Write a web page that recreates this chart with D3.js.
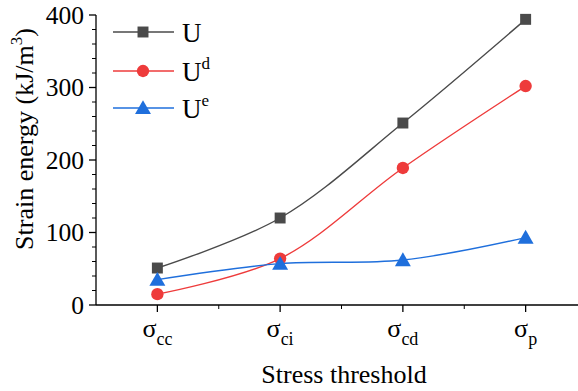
<!DOCTYPE html>
<html><head><meta charset="utf-8">
<script src="https://cdn.jsdelivr.net/npm/d3@7"></script>
</head><body style="margin:0"><svg id="c" width="578" height="391"></svg>
<script>
const categories = ["cc", "ci", "cd", "p"];
const U = [51, 120, 251, 394];
const Ud = [15, 64, 189, 302];
const Ue = [35, 57, 62, 93];
const yTicks = [0, 100, 200, 300, 400];
const seriesNames = [["U", ""], ["U", "d"], ["U", "e"]];
const colors = ["#4a4a4a", "#ee3b3b", "#1f6fdc"];

const svg = d3.select("#c");
const x = d3.scaleLinear().domain([-0.5, 3.5]).range([96, 587]);
const y = d3.scaleLinear().domain([0, 400]).range([305, 15]);
const txt = (sel) => sel.append("text").style("font-family", "Liberation Serif", "important");

// axes
const yMinor = d3.range(0, 401, 20).filter(v => v % 100 !== 0);
svg.append("line").attr("x1", 96).attr("x2", 96).attr("y1", y(400)).attr("y2", y(0)).attr("stroke", "#000").attr("stroke-width", 1.3);
svg.append("line").attr("x1", 96).attr("x2", 578).attr("y1", y(0)).attr("y2", y(0)).attr("stroke", "#000").attr("stroke-width", 1.3);
svg.selectAll(".ymaj").data(yTicks).enter().append("line")
  .attr("x1", 89).attr("x2", 96).attr("y1", d => y(d)).attr("y2", d => y(d)).attr("stroke", "#000").attr("stroke-width", 1.3);
svg.selectAll(".ymin").data(yMinor).enter().append("line")
  .attr("x1", 92).attr("x2", 96).attr("y1", d => y(d)).attr("y2", d => y(d)).attr("stroke", "#000").attr("stroke-width", 1);
yTicks.forEach(d => {
  txt(svg).attr("x", 84).attr("y", y(d) + 8.5).attr("text-anchor", "end").style("font-size", "25.5px").text(d);
});

svg.selectAll(".xmaj").data(categories).enter().append("line")
  .attr("x1", (d, i) => x(i)).attr("x2", (d, i) => x(i)).attr("y1", y(0)).attr("y2", y(0) + 7).attr("stroke", "#000").attr("stroke-width", 1.3);
svg.selectAll(".xmin").data([0.5, 1.5, 2.5]).enter().append("line")
  .attr("x1", d => x(d)).attr("x2", d => x(d)).attr("y1", y(0)).attr("y2", y(0) + 4).attr("stroke", "#000").attr("stroke-width", 1);
categories.forEach((c, i) => {
  const t = txt(svg).attr("x", x(i)).attr("y", 337).attr("text-anchor", "middle").style("font-size", "26px");
  t.append("tspan").text("σ");
  t.append("tspan").style("font-size", "18px").attr("dy", 8).text(c);
});

// titles
txt(svg).attr("x", 344).attr("y", 383).attr("text-anchor", "middle").style("font-size", "26px").text("Stress threshold");
const yt = txt(svg).attr("transform", "translate(33,139) rotate(-90)").attr("text-anchor", "middle").style("font-size", "26px");
yt.append("tspan").text("Strain energy (kJ/m");
yt.append("tspan").style("font-size", "17px").attr("dy", -11).text("3");
yt.append("tspan").attr("dy", 11).text(")");

// series
const data = [U, Ud, Ue];
const line = d3.line().x((d, i) => x(i)).y(d => y(d)).curve(d3.curveCatmullRom.alpha(0.5));
data.forEach((s, k) => {
  svg.append("path").attr("d", line(s)).attr("fill", "none").attr("stroke", colors[k]).attr("stroke-width", 1.4);
});
const sym = [d3.symbolSquare, d3.symbolCircle, d3.symbolTriangle];
const sizes = [120, 120, 110];
data.forEach((s, k) => {
  svg.selectAll(".m" + k).data(s).enter().append("path")
    .attr("d", d3.symbol().type(sym[k]).size(sizes[k]))
    .attr("transform", (d, i) => `translate(${x(i)},${y(d) + (k === 2 ? 1.5 : 0)})`)
    .attr("fill", colors[k]);
});

// legend
const ly = [32, 71, 108];
seriesNames.forEach((n, k) => {
  svg.append("line").attr("x1", 113).attr("x2", 174).attr("y1", ly[k]).attr("y2", ly[k]).attr("stroke", colors[k]).attr("stroke-width", 1.4);
  svg.append("path").attr("d", d3.symbol().type(sym[k]).size(sizes[k]))
    .attr("transform", `translate(143,${ly[k] + (k === 2 ? 1.5 : 0)})`).attr("fill", colors[k]);
  const t = txt(svg).attr("x", 182).attr("y", ly[k] + 10).style("font-size", "27px");
  t.append("tspan").text(n[0]);
  if (n[1]) t.append("tspan").style("font-size", "17px").attr("dy", -12).text(n[1]);
});
</script></body></html>
